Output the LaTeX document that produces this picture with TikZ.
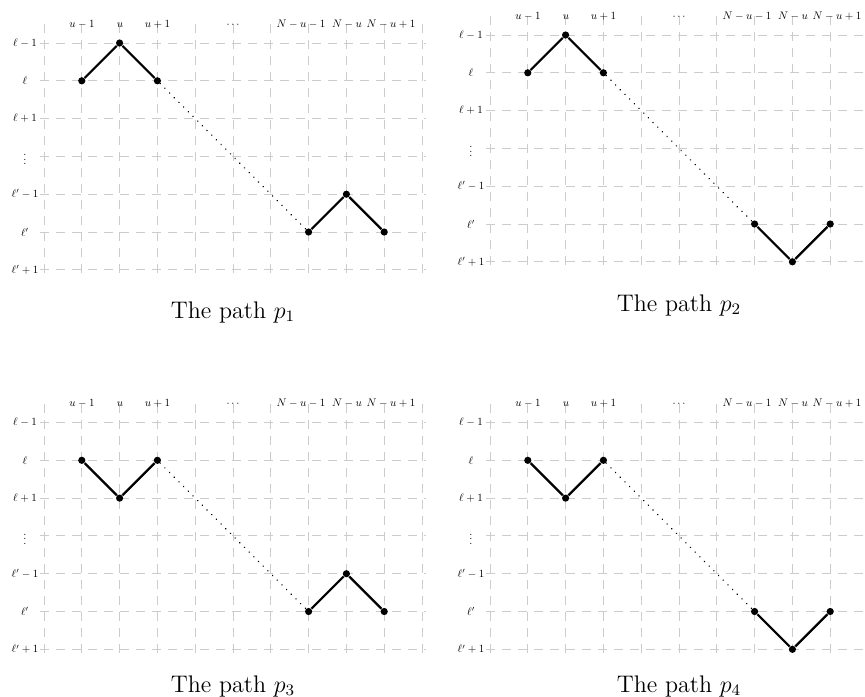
\documentclass[tikz,border=0pt]{standalone}
\begin{document}
\begin{tikzpicture}[x=0.5pt,y=-0.5pt,
  gridline/.style={draw=gray!40, line width=0.5pt, dash pattern=on 4.5pt off 3.5pt},
  ptdot/.style={circle, fill=black, inner sep=0pt, minimum size=3.6pt},
  pathseg/.style={line width=1.1pt, draw=black},
  dotseg/.style={line width=0.8pt, dash pattern=on 0.01pt off 3.3pt, line cap=round},
  toplab/.style={font=\fontsize{10}{12}\selectfont, scale=0.55, anchor=base, inner sep=0pt},
  leftlab/.style={font=\fontsize{10}{12}\selectfont, scale=0.55, inner sep=0pt},
  captext/.style={font=\fontsize{12}{14}\selectfont, anchor=base, inner sep=0pt}]
\useasboundingbox (0,0) rectangle (865,696);
\clip (0,0) rectangle (865,696);
\newcommand\pathpanel[6]{%
 \begin{scope}[shift={(#1,#2)}]
  \foreach \j in {0,...,6} \draw[gridline] (40,{43+37.8*\j}) -- (426,{43+37.8*\j});
  \foreach \i in {0,...,10} \draw[gridline] ({44+37.8*\i},24) -- ({44+37.8*\i},273);
  \node[leftlab] (la#5) at (25,43) {$\ell-1$};
  \node[leftlab] (lb#5) at (25,80.8) {$\ell$};
  \node[leftlab] (lc#5) at (25,118.6) {$\ell+1$};
  \node[leftlab] (ld#5) at (25,156.4) {$\vdots$};
  \node[leftlab] (le#5) at (25,194.2) {$\ell'-1$};
  \node[leftlab] (lf#5) at (25,232) {$\ell'$};
  \node[leftlab] (lg#5) at (25,269.8) {$\ell'+1$};
  \node[toplab] (ta#5) at (82,27) {$u-1$};
  \node[toplab] (tb#5) at (120,27) {$u$};
  \node[toplab] (tc#5) at (157.5,27) {$u+1$};
  \node[toplab] (td#5) at (233,27) {$\cdots$};
  \node[toplab] (te#5) at (301,27) {$N-u-1$};
  \node[toplab] (tf#5) at (347,27) {$N-u$};
  \node[toplab] (tg#5) at (391,27) {$N-u+1$};
  \node[ptdot] (L1#5) at (81.8,80.8) {};
  \node[ptdot] (L2#5) at (119.6,{43+37.8*#3}) {};
  \node[ptdot] (L3#5) at (157.4,80.8) {};
  \node[ptdot] (R1#5) at (308.6,232) {};
  \node[ptdot] (R2#5) at (346.4,{43+37.8*#4}) {};
  \node[ptdot] (R3#5) at (384.2,232) {};
  \draw[pathseg] (L1#5) -- (L2#5) -- (L3#5);
  \draw[pathseg] (R1#5) -- (R2#5) -- (R3#5);
  \draw[dotseg] (L3#5) -- (R1#5);
  \node[captext] (cap#5) at (233,#6) {The path $p_#5$};
 \end{scope}}
\pathpanel{0}{0}{0}{4}{1}{318}
\pathpanel{446}{-8}{0}{6}{2}{319}
\pathpanel{0}{379.5}{2}{4}{3}{312.5}
\pathpanel{446}{379.5}{2}{6}{4}{312.5}
\end{tikzpicture}
\end{document}
